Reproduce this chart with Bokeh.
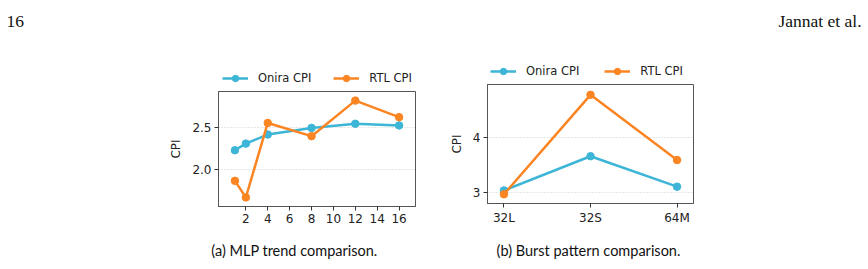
from bokeh.plotting import figure
from bokeh.layouts import column, row
from bokeh.models import (Spacer, FixedTicker, Legend, LegendItem, FactorRange,
                          Range1d, CustomJSTickFormatter)
from bokeh.core.properties import value
from bokeh.embed import file_html
from bokeh.resources import INLINE

# ---- data -------------------------------------------------------------
mlp_levels = [1, 2, 4, 8, 12, 16]
mlp_onira_cpi = [2.23, 2.31, 2.42, 2.50, 2.55, 2.53]
mlp_rtl_cpi = [1.86, 1.66, 2.56, 2.40, 2.83, 2.63]
mlp_ticks = [2, 4, 6, 8, 10, 12, 14, 16]
mlp_yticks = [2.0, 2.5]

burst_patterns = ["32L", "32S", "64M"]
burst_onira_cpi = [3.03, 3.66, 3.10]
burst_rtl_cpi = [2.96, 4.79, 3.59]
burst_yticks = [3, 4]

series_names = ["Onira CPI", "RTL CPI"]

page_number = "16"
running_head = "Jannat et al."
caption_a = "(a) MLP trend comparison."
caption_b = "(b) Burst pattern comparison."

# ---- style ------------------------------------------------------------
BLUE = "#3db5d6"
ORANGE = "#fb8423"
FONT = "DejaVu Sans"
FS = "12px"
LEG_FS = "11.5px"
SPINE = "#555555"
NAN = float("nan")


def style_axes(p):
    p.outline_line_color = SPINE
    p.outline_line_width = 1
    for ax in (p.xaxis[0], p.yaxis[0]):
        ax.axis_line_color = SPINE
        ax.major_tick_line_color = "#333333"
        ax.major_tick_out = 4
        ax.major_tick_in = 0
        ax.minor_tick_line_color = None
        ax.major_label_text_font = FONT
        ax.major_label_text_font_size = FS
        ax.major_label_text_color = "#222222"
        ax.major_label_standoff = 3
    p.yaxis.axis_label = "CPI"
    p.yaxis.axis_label_text_font = FONT
    p.yaxis.axis_label_text_font_size = FS
    p.yaxis.axis_label_text_font_style = "normal"
    p.yaxis.axis_label_text_color = "#222222"
    p.yaxis.axis_label_standoff = 6
    p.xgrid.grid_line_color = None
    p.ygrid.grid_line_color = "#c8c8c8"
    p.ygrid.grid_line_dash = "1 2"
    p.ygrid.grid_line_width = 0.9
    p.background_fill_color = "white"
    p.border_fill_color = "white"


def add_series(p, xs, ys, color):
    p.line(xs, ys, line_color=color, line_width=2.5)
    p.scatter(xs, ys, size=7.5, fill_color=color, line_color=color)


def blank(width, height):
    f = figure(width=width, height=height, output_backend="svg",
               toolbar_location=None, x_range=Range1d(0, width),
               y_range=Range1d(0, height), min_border=0,
               x_axis_location=None, y_axis_location=None)
    f.outline_line_color = None
    f.grid.grid_line_color = None
    f.background_fill_color = "white"
    f.border_fill_color = "white"
    return f


def key_strip(width, height, x0, spacing):
    """Horizontal key drawn in its own strip above a panel.

    The strip's frame lines up with the panel frame below it, so x0 is
    measured from the panel's left spine.
    """
    f = blank(width, height)
    items = []
    for name, color in zip(series_names, [BLUE, ORANGE]):
        # placeholder renderers: they only supply the key's glyph styling
        ln = f.line([NAN], [NAN], line_color=color, line_width=2.5)
        mk = f.scatter([NAN], [NAN], size=7.5, fill_color=color, line_color=color)
        items.append(LegendItem(label=name, renderers=[ln, mk]))
    leg = Legend(items=items, orientation="horizontal", location=(x0, 0),
                 padding=0, margin=0, spacing=spacing,
                 glyph_width=26, glyph_height=16, label_standoff=10,
                 label_text_font=FONT, label_text_font_size=LEG_FS,
                 label_text_color="#222222", label_height=16,
                 border_line_color=None, background_fill_alpha=0)
    f.add_layout(leg, "center")
    return f


# ---- (a) MLP trend ----------------------------------------------------
pa = figure(width=290, height=149, output_backend="svg", toolbar_location=None,
            x_range=Range1d(-0.5, 17.5), y_range=Range1d(1.55, 2.94),
            min_border_left=68, min_border_right=25,
            min_border_top=5, min_border_bottom=29)
style_axes(pa)
pa.xaxis.ticker = FixedTicker(ticks=mlp_ticks)
pa.yaxis.ticker = FixedTicker(ticks=mlp_yticks)
pa.yaxis.formatter = CustomJSTickFormatter(code="return tick.toFixed(1);")
add_series(pa, mlp_levels, mlp_onira_cpi, BLUE)
add_series(pa, mlp_levels, mlp_rtl_cpi, ORANGE)
key_a = key_strip(290, 56, 4, 22)

# ---- (b) burst pattern ------------------------------------------------
pb = figure(width=280, height=156, output_backend="svg", toolbar_location=None,
            x_range=FactorRange(factors=burst_patterns, range_padding=-0.31,
                                range_padding_units="absolute"),
            y_range=Range1d(2.79, 4.98),
            min_border_left=47, min_border_right=27,
            min_border_top=5, min_border_bottom=32)
style_axes(pb)
pb.yaxis.ticker = FixedTicker(ticks=burst_yticks)
add_series(pb, burst_patterns, burst_onira_cpi, BLUE)
add_series(pb, burst_patterns, burst_rtl_cpi, ORANGE)
key_b = key_strip(280, 49, 3, 25)

# ---- page furniture ---------------------------------------------------
head = blank(868, 30)
head.text(x=[6], y=[9.5], text=[page_number], text_font=value("Liberation Serif"),
          text_font_size="17.5px", text_baseline="alphabetic", text_color="#111111")
head.text(x=[861], y=[9.5], text=[running_head], text_font=value("Liberation Serif"),
          text_font_size="17.5px", text_align="right", text_baseline="alphabetic",
          text_color="#111111")

cap = blank(868, 34)
cap.text(x=[294, 588], y=[19, 19], text=[caption_a, caption_b],
         text_font=value("Lato"), text_font_size="14.5px", text_align="center",
         text_baseline="alphabetic", text_color="#111111")

middle = row(Spacer(width=150, height=205),
             column(key_a, pa), column(key_b, pb),
             Spacer(width=148, height=205))
page = column(head, middle, cap)

open("out.html", "w").write(file_html(page, INLINE))
